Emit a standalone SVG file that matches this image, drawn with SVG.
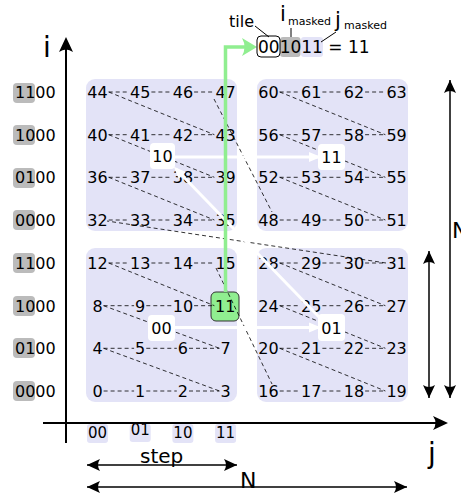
<svg xmlns="http://www.w3.org/2000/svg" width="461" height="493" viewBox="0 0 461 493">
<defs>
<style>
text{font-family:"DejaVu Sans",sans-serif;fill:#000}
.n{font-size:16px;text-anchor:middle}
.lab{font-size:16px}
.bl{font-size:15px;text-anchor:middle}
.d{stroke:#000;stroke-width:0.8;stroke-dasharray:4 3;fill:none}
.tile{fill:#e3e3f7}
.hl{fill:#bbbbbb}
.ax{stroke:#000;stroke-width:2;fill:none;marker-end:url(#big)}
.ar{stroke:#000;stroke-width:1.5;fill:none;marker-start:url(#ah);marker-end:url(#ah)}
.wa{stroke:#fff;stroke-width:3;fill:none;marker-end:url(#wh)}
.lb{fill:#fff}
.lead{stroke:#000;stroke-width:1;fill:none}
</style>
<marker id="ah" viewBox="-14 -7 15 14" refX="0" refY="0" markerWidth="15" markerHeight="14" orient="auto-start-reverse" markerUnits="userSpaceOnUse"><path d="M0,0 L-13,-6 Q-9,0 -13,6 Z" fill="#000"/></marker>
<marker id="big" viewBox="-16 -8 17 16" refX="-3" refY="0" markerWidth="17" markerHeight="16" orient="auto" markerUnits="userSpaceOnUse"><path d="M0,0 L-15,-7 Q-10,0 -15,7 Z" fill="#000"/></marker>
<marker id="wh" viewBox="-13 -6 14 12" refX="-3" refY="0" markerWidth="14" markerHeight="12" orient="auto" markerUnits="userSpaceOnUse"><path d="M0,0 L-12,-5 L-12,5 Z" fill="#fff"/></marker>
<marker id="gh" viewBox="-16 -10 17 20" refX="-6" refY="0" markerWidth="17" markerHeight="20" orient="auto" markerUnits="userSpaceOnUse"><path d="M0,0 L-15,-9 Q-10,0 -15,9 Z" fill="#90ee90"/></marker>
</defs>

<g id="axes">
<line class="ax" x1="66" y1="443" x2="66" y2="40"/>
<line class="ax" x1="43" y1="423" x2="445" y2="423"/>
<text x="43" y="57" font-size="28">i</text>
<text x="428" y="463" font-size="28">j</text>
</g>

<g id="row-labels">
<rect class="hl" x="13" y="83" width="22" height="20" rx="4"/>
<rect class="hl" x="13" y="125" width="22" height="20" rx="4"/>
<rect class="hl" x="13" y="168" width="22" height="20" rx="4"/>
<rect class="hl" x="13" y="210" width="22" height="20" rx="4"/>
<rect class="hl" x="13" y="253" width="22" height="20" rx="4"/>
<rect class="hl" x="13" y="296" width="22" height="20" rx="4"/>
<rect class="hl" x="13" y="338" width="22" height="20" rx="4"/>
<rect class="hl" x="13" y="381" width="22" height="20" rx="4"/>
<text class="lab" x="15" y="98">1100</text>
<text class="lab" x="15" y="140.7">1000</text>
<text class="lab" x="15" y="183.3">0100</text>
<text class="lab" x="15" y="226">0000</text>
<text class="lab" x="15" y="269">1100</text>
<text class="lab" x="15" y="311.7">1000</text>
<text class="lab" x="15" y="354.3">0100</text>
<text class="lab" x="15" y="397">0000</text>
</g>

<g id="col-labels">
<rect class="tile" x="87" y="424" width="21" height="19" rx="3"/>
<rect class="tile" x="129.7" y="424" width="21" height="18" rx="3"/>
<rect class="tile" x="172.4" y="424" width="21" height="19" rx="3"/>
<rect class="tile" x="215.1" y="424" width="21" height="19" rx="3"/>
<text class="bl" x="97.5" y="438">00</text>
<text class="bl" x="140.2" y="435">01</text>
<text class="bl" x="182.9" y="438">10</text>
<text class="bl" x="225.6" y="438">11</text>
</g>

<g id="tile-00">
<rect class="tile" x="86" y="248" width="151" height="154" rx="9"/>
<rect x="211" y="292" width="28" height="29" rx="5" fill="#90ee90" stroke="#333" stroke-width="1"/>
<text class="n" x="97.5" y="397">0</text><text class="n" x="140.2" y="397">1</text><text class="n" x="182.9" y="397">2</text><text class="n" x="225.6" y="397">3</text>
<text class="n" x="97.5" y="354.3">4</text><text class="n" x="140.2" y="354.3">5</text><text class="n" x="182.9" y="354.3">6</text><text class="n" x="225.6" y="354.3">7</text>
<text class="n" x="97.5" y="311.7">8</text><text class="n" x="140.2" y="311.7">9</text><text class="n" x="182.9" y="311.7">10</text><text class="n" x="225.3" y="311.7">11</text>
<text class="n" x="97.5" y="269">12</text><text class="n" x="140.2" y="269">13</text><text class="n" x="182.9" y="269">14</text><text class="n" x="225.6" y="269">15</text>
</g>

<g id="tile-01">
<rect class="tile" x="257" y="248" width="151" height="154" rx="9"/>
<text class="n" x="268.5" y="397">16</text><text class="n" x="311.2" y="397">17</text><text class="n" x="353.9" y="397">18</text><text class="n" x="396.6" y="397">19</text>
<text class="n" x="268.5" y="354.3">20</text><text class="n" x="311.2" y="354.3">21</text><text class="n" x="353.9" y="354.3">22</text><text class="n" x="396.6" y="354.3">23</text>
<text class="n" x="268.5" y="311.7">24</text><text class="n" x="311.2" y="311.7">25</text><text class="n" x="353.9" y="311.7">26</text><text class="n" x="396.6" y="311.7">27</text>
<text class="n" x="268.5" y="269">28</text><text class="n" x="311.2" y="269">29</text><text class="n" x="353.9" y="269">30</text><text class="n" x="396.6" y="269">31</text>
</g>

<g id="tile-10">
<rect class="tile" x="86" y="79" width="151" height="152" rx="9"/>
<text class="n" x="97.5" y="226">32</text><text class="n" x="140.2" y="226">33</text><text class="n" x="182.9" y="226">34</text><text class="n" x="225.6" y="226">35</text>
<text class="n" x="97.5" y="183.3">36</text><text class="n" x="140.2" y="183.3">37</text><text class="n" x="182.9" y="183.3">38</text><text class="n" x="225.6" y="183.3">39</text>
<text class="n" x="97.5" y="140.7">40</text><text class="n" x="140.2" y="140.7">41</text><text class="n" x="182.9" y="140.7">42</text><text class="n" x="225.6" y="140.7">43</text>
<text class="n" x="97.5" y="98">44</text><text class="n" x="140.2" y="98">45</text><text class="n" x="182.9" y="98">46</text><text class="n" x="225.6" y="98">47</text>
</g>

<g id="tile-11">
<rect class="tile" x="257" y="79" width="151" height="152" rx="9"/>
<text class="n" x="268.5" y="226">48</text><text class="n" x="311.2" y="226">49</text><text class="n" x="353.9" y="226">50</text><text class="n" x="396.6" y="226">51</text>
<text class="n" x="268.5" y="183.3">52</text><text class="n" x="311.2" y="183.3">53</text><text class="n" x="353.9" y="183.3">54</text><text class="n" x="396.6" y="183.3">55</text>
<text class="n" x="268.5" y="140.7">56</text><text class="n" x="311.2" y="140.7">57</text><text class="n" x="353.9" y="140.7">58</text><text class="n" x="396.6" y="140.7">59</text>
<text class="n" x="268.5" y="98">60</text><text class="n" x="311.2" y="98">61</text><text class="n" x="353.9" y="98">62</text><text class="n" x="396.6" y="98">63</text>
</g>

<g id="connectors">
<path class="d" d="M103.6,391H134.1M146.3,391H176.8M189,391H219.5
M103.6,348.3H134.1M146.3,348.3H176.8M189,348.3H219.5
M103.6,305.7H134.1M146.3,305.7H171.7M194.1,305.7H214.4
M108.7,263H129M151.4,263H171.7M194.1,263H214.4
M108.7,220H129M151.4,220H171.7M194.1,220H214.4
M108.7,177.3H129M151.4,177.3H171.7M194.1,177.3H214.4
M108.7,134.7H129M151.4,134.7H171.7M194.1,134.7H214.4
M108.7,92H129M151.4,92H171.7M194.1,92H214.4
M279.7,391H300M322.4,391H342.7M365.1,391H385.4
M279.7,348.3H300M322.4,348.3H342.7M365.1,348.3H385.4
M279.7,305.7H300M322.4,305.7H342.7M365.1,305.7H385.4
M279.7,263H300M322.4,263H342.7M365.1,263H385.4
M279.7,220H300M322.4,220H342.7M365.1,220H385.4
M279.7,177.3H300M322.4,177.3H342.7M365.1,177.3H385.4
M279.7,134.7H300M322.4,134.7H342.7M365.1,134.7H385.4
M279.7,92H300M322.4,92H342.7M365.1,92H385.4"/>
<path class="d" d="M103.6,348.3L219.5,391M103.6,305.7L219.5,348.3M108.7,263L214.4,305.7
M279.7,348.3L385.4,391M279.7,305.7L385.4,348.3M279.7,263L385.4,305.7
M108.7,177.3L214.4,220M108.7,134.7L214.4,177.3M108.7,92L214.4,134.7
M279.7,177.3L385.4,220M279.7,134.7L385.4,177.3M279.7,92L385.4,134.7
M216,268L272,384M386,263L107,221M214,99L272,212"/>
<line class="wa" x1="175" y1="327.5" x2="318" y2="327.5"/>
<line class="wa" x1="319" y1="317" x2="176" y2="169"/>
<line class="wa" x1="175" y1="157" x2="318" y2="157"/>
</g>

<g id="q00"><rect class="lb" x="148" y="315" width="27" height="26" rx="4"/><text class="n" x="161.5" y="334">00</text></g>
<g id="q01"><rect class="lb" x="318" y="314" width="27" height="27" rx="4"/><text class="n" x="331.5" y="333.5">01</text></g>
<g id="q10"><rect class="lb" x="150" y="143" width="25" height="26" rx="4"/><text class="n" x="162.5" y="162">10</text></g>
<g id="q11"><rect class="lb" x="318" y="144" width="27" height="26" rx="4"/><text class="n" x="331.5" y="163">11</text></g>

<g id="highlight-path">
<path d="M225.5,292V47H251" fill="none" stroke="#90ee90" stroke-width="3.5" marker-end="url(#gh)"/>
</g>

<g id="index-annotation">
<rect x="280" y="37" width="20.5" height="20" rx="3" class="hl"/>
<rect x="301" y="37" width="22" height="20" rx="3" class="tile"/>
<rect x="257" y="36" width="23" height="21" rx="4" fill="none" stroke="#000" stroke-width="1"/>
<text x="258" y="53" font-size="17">001011 = 11</text>
<text x="229" y="27" font-size="16">tile</text>
<text x="280" y="21" font-size="21">i</text>
<text x="288" y="25" font-size="11">masked</text>
<text x="335" y="27" font-size="21">j</text>
<text x="344" y="29" font-size="11">masked</text>
<path class="lead" d="M255,26L269,37M291,28V37M336,32L321,42"/>
</g>

<g id="dimensions">
<line class="ar" x1="87" y1="465" x2="237" y2="465"/>
<text x="140" y="463" font-size="20">step</text>
<line class="ar" x1="87" y1="487" x2="407" y2="487"/>
<text x="240" y="488" font-size="22">N</text>
<line class="ar" x1="429" y1="251" x2="429" y2="398"/>
<line class="ar" x1="450" y1="80" x2="450" y2="398"/>
<text x="452" y="238" font-size="22">N</text>
</g>
</svg>
